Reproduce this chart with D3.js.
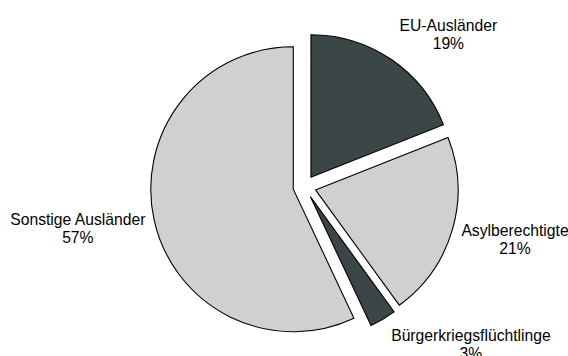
<!DOCTYPE html>
<html>
<head>
<meta charset="utf-8">
<script src="https://cdn.jsdelivr.net/npm/d3@7"></script>
<style>
  body { margin: 0; background: #fff; }
  svg text { font-family: "Liberation Sans", Arial, sans-serif; font-size: 15.7px; fill: #000; }
</style>
</head>
<body>
<svg id="chart" width="568" height="356"></svg>
<script>
// slices clockwise from 12 o'clock
var categories = ["EU-Ausländer", "Asylberechtigte", "Bürgerkriegsflüchtlinge", "Sonstige Ausländer"];
var shares = [19, 21, 3, 57];
var share_labels = ["19%", "21%", "3%", "57%"];
var slice_colors = ["#3b4646", "#d0d0d0", "#3b4646", "#d0d0d0"];

var width = 568, height = 356;
var cx = 304.5, cy = 186.7;
var RADIUS = 142.5;
var EXPLODE = 11.5;
var LABEL_GAP = 9;
var LINE_H = 18.4;

var svg = d3.select("#chart");
var g = svg.append("g").attr("transform", "translate(" + cx + "," + cy + ")");

var pie = d3.pie().sort(null).value(function(d) { return d; });
var arc = d3.arc().innerRadius(0).outerRadius(RADIUS);

var slices = pie(shares);

function mid_dir(d) {
    var a = (d.startAngle + d.endAngle) / 2;
    return [Math.sin(a), -Math.cos(a)];
}

g.selectAll("path")
    .data(slices)
    .enter().append("path")
    .attr("d", arc)
    .attr("transform", function(d) {
        var v = mid_dir(d);
        return "translate(" + (v[0] * EXPLODE) + "," + (v[1] * EXPLODE) + ")";
    })
    .style("fill", function(d, i) { return slice_colors[i]; })
    .style("stroke", "#000")
    .style("stroke-width", 1.1)
    .style("stroke-linejoin", "miter");

// labels: box anchored just outside the slice, excel style
var labels = g.selectAll("text.lbl")
    .data(slices)
    .enter().append("text")
    .attr("class", "lbl")
    .attr("text-anchor", "middle");

labels.append("tspan").text(function(d, i) { return categories[i]; });
labels.append("tspan").text(function(d, i) { return share_labels[i]; });

labels.each(function(d) {
    var t = d3.select(this);
    var w = 0;
    t.selectAll("tspan").each(function() {
        w = Math.max(w, this.getComputedTextLength());
    });
    var v = mid_dir(d);
    var r = EXPLODE + RADIUS + LABEL_GAP;
    var px = v[0] * r, py = v[1] * r;
    var h = LINE_H * 2;
    var bx = px + (v[0] >= 0 ? 1 : -1) * w / 2;
    if (v[0] >= 0) bx += 5 * v[1] * v[1];
    var by = py + v[1] * (h / 2 + 4) + 2;
    if (v[1] > 0) by -= 6 * Math.pow(v[1], 4);
    var top = by - h / 2;
    t.selectAll("tspan")
        .attr("x", bx)
        .attr("y", function(_, j) { return top + 14 + j * LINE_H; });
});
</script>
</body>
</html>
